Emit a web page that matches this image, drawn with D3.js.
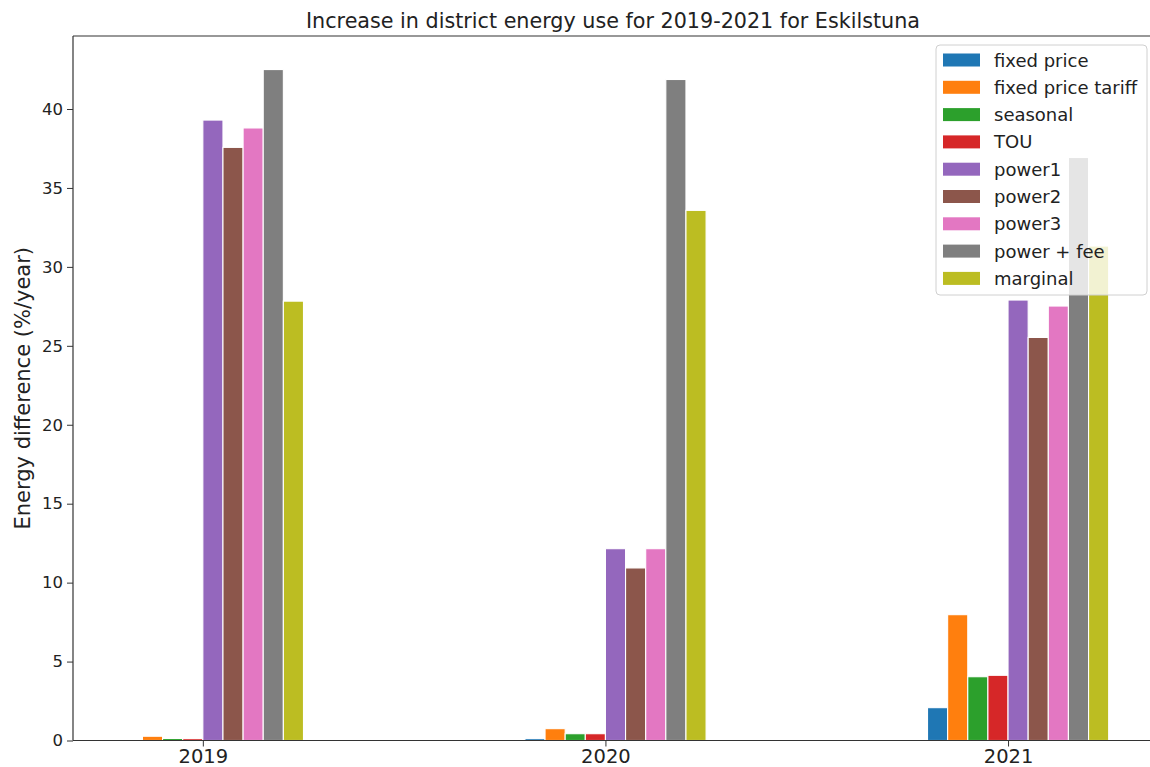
<!DOCTYPE html>
<html>
<head>
<meta charset="utf-8">
<script src="https://cdn.jsdelivr.net/npm/d3@7"></script>
<style>
  html, body { margin: 0; padding: 0; background: #fff; }
  svg { display: block; font-family: "DejaVu Sans", sans-serif; }
</style>
</head>
<body>
<svg id="chart" width="1150" height="767"></svg>
<script>
// Years on the x axis
const years = ["2019", "2020", "2021"];

// Pricing models (one bar per model per year)
const models = ["fixed price", "fixed price tariff", "seasonal", "TOU",
                "power1", "power2", "power3", "power + fee", "marginal"];

// Increase in district energy use (%/year), one array per model, by year
const fixedPrice       = [0.0, 0.12, 2.08];
const fixedPriceTariff = [0.27, 0.75, 7.97];
const seasonal         = [0.13, 0.43, 4.04];
const tou              = [0.12, 0.43, 4.13];
const power1           = [39.3, 12.15, 27.9];
const power2           = [37.57, 10.93, 25.53];
const power3           = [38.8, 12.15, 27.52];
const powerFee         = [42.5, 41.87, 36.93];
const marginal         = [27.83, 33.58, 31.32];

const seriesValues = [fixedPrice, fixedPriceTariff, seasonal, tou,
                      power1, power2, power3, powerFee, marginal];

const yTicks = [0, 5, 10, 15, 20, 25, 30, 35, 40];

const colors = ["#1f77b4", "#ff7f0e", "#2ca02c", "#d62728", "#9467bd",
                "#8c564b", "#e377c2", "#7f7f7f", "#bcbd22"];

const svg = d3.select("#chart");

// Plot frame
const plotLeft = 73, plotTop = 36, plotBottom = 740.5, plotRight = 1158;
const barW = 0.05;           // bar width in year-index units
const yMax = d3.max(seriesValues.flat()) * 1.05;

const x = d3.scaleLinear().domain([-0.3225, 2.3725]).range([plotLeft, plotRight]);
const y = d3.scaleLinear().domain([0, yMax]).range([plotBottom, plotTop]);

// Bars
const barData = [];
seriesValues.forEach((vals, i) => {
  vals.forEach((v, j) => barData.push({ i, j, v }));
});

svg.append("g").selectAll("rect")
  .data(barData)
  .join("rect")
  .attr("x", d => x(d.j + (d.i - 4) * barW))
  .attr("width", d => x(barW) - x(0))
  .attr("y", d => y(d.v))
  .attr("height", d => y(0) - y(d.v))
  .attr("fill", d => colors[d.i])
  .attr("stroke", "#fff")
  .attr("stroke-width", 1.1);

// Y axis
const yAxis = svg.append("g")
  .attr("transform", `translate(${plotLeft},0)`)
  .call(d3.axisLeft(y).tickValues(yTicks).tickSize(6).tickPadding(4).tickFormat(d3.format("d")));
yAxis.select(".domain").remove();
yAxis.selectAll(".tick line").attr("stroke", "#333").attr("stroke-width", 1);
yAxis.selectAll(".tick text")
  .attr("fill", "#222")
  .style("font-size", "16.5px")
  .style("font-family", "DejaVu Sans");

// X axis
const xAxis = svg.append("g")
  .attr("transform", `translate(0,${plotBottom})`)
  .call(d3.axisBottom(x).tickValues([0, 1, 2]).tickSize(6).tickPadding(3)
        .tickFormat(d => years[d]));
xAxis.select(".domain").remove();
xAxis.selectAll(".tick line").attr("stroke", "#333").attr("stroke-width", 1);
xAxis.selectAll(".tick text")
  .attr("fill", "#222")
  .style("font-size", "19.5px")
  .style("font-family", "DejaVu Sans");

// Spines
const spines = svg.append("g").attr("stroke", "#333").attr("stroke-width", 1.2);
spines.append("line").attr("x1", plotLeft).attr("x2", plotLeft).attr("y1", plotTop).attr("y2", plotBottom);
spines.append("line").attr("x1", plotLeft).attr("x2", plotRight).attr("y1", plotBottom).attr("y2", plotBottom);
spines.append("line").attr("x1", plotLeft).attr("x2", plotRight).attr("y1", plotTop).attr("y2", plotTop);

// Title
svg.append("text")
  .attr("x", 613)
  .attr("y", 28)
  .attr("text-anchor", "middle")
  .attr("fill", "#222")
  .style("font-size", "20.7px")
  .text("Increase in district energy use for 2019-2021 for Eskilstuna");

// Y label
svg.append("text")
  .attr("transform", `translate(30,${(plotTop + plotBottom) / 2}) rotate(-90)`)
  .attr("text-anchor", "middle")
  .attr("fill", "#222")
  .style("font-size", "21px")
  .text("Energy difference (%/year)");

// Legend
const legend = svg.append("g").attr("transform", "translate(936,45)");
legend.append("rect")
  .attr("width", 211).attr("height", 250)
  .attr("rx", 4)
  .attr("fill", "#fff").attr("fill-opacity", 0.8)
  .attr("stroke", "#d0d0d0").attr("stroke-width", 1);

const rowH = 27.3;
const rows = legend.selectAll("g.row")
  .data(models)
  .join("g")
  .attr("class", "row")
  .attr("transform", (d, i) => `translate(0,${15 + i * rowH})`);
rows.append("rect")
  .attr("x", 7).attr("y", -6.5)
  .attr("width", 37).attr("height", 13)
  .attr("fill", (d, i) => colors[i]);
rows.append("text")
  .attr("x", 58).attr("y", 6.5)
  .attr("fill", "#222")
  .style("font-size", "18px")
  .text(d => d);
</script>
</body>
</html>
